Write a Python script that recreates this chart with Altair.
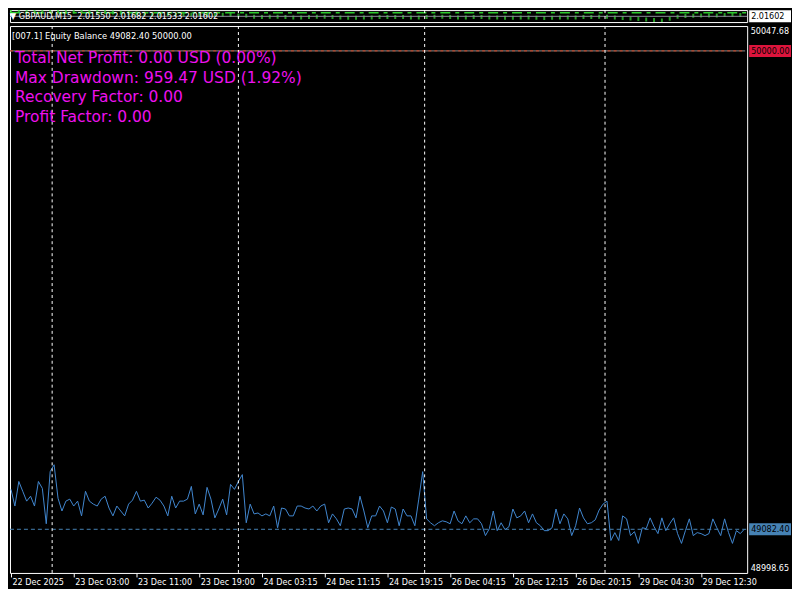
import json
import altair as alt
import pandas as pd

# ---------------- data ----------------
# equity (USD), one value every 2 M15 bars
equity = [
    49159.0, 49127.0, 49174.1, 49155.3, 49136.4, 49145.8, 49127.0, 49174.1, 49160.9, 49093.0,
    49193.0, 49206.2, 49142.0, 49117.5, 49136.4, 49140.2, 49127.0, 49136.4, 49108.1, 49155.3,
    49136.4, 49130.7, 49127.0, 49140.2, 49145.8, 49123.2, 49108.1, 49127.0, 49117.5, 49108.1,
    49130.7, 49138.3, 49155.3, 49136.4, 49138.3, 49123.2, 49132.6, 49143.9, 49138.3, 49127.0,
    49108.1, 49145.8, 49123.2, 49136.4, 49136.4, 49140.2, 49164.7, 49111.9, 49130.7, 49110.0,
    49162.8, 49140.2, 49104.3, 49121.3, 49140.2, 49110.0, 49168.5, 49159.0, 49174.1, 49187.3,
    49094.9, 49130.7, 49111.9, 49113.7, 49108.1, 49111.9, 49108.1, 49127.0, 49085.4, 49123.2,
    49121.3, 49108.1, 49108.1, 49127.0, 49127.0, 49123.2, 49121.3, 49127.0, 49117.5, 49127.0,
    49130.7, 49094.9, 49111.9, 49102.4, 49089.2, 49121.3, 49123.2, 49121.3, 49104.3, 49145.8,
    49117.5, 49085.4, 49108.1, 49108.1, 49127.0, 49117.5, 49094.9, 49125.1, 49121.3, 49089.2,
    49121.3, 49108.1, 49108.1, 49089.2, 49140.2, 49193.0, 49102.4, 49094.9, 49089.2, 49094.9,
    49098.6, 49096.8, 49093.0, 49117.5, 49098.6, 49093.0, 49108.1, 49094.9, 49102.4, 49102.4,
    49093.0, 49070.3, 49083.6, 49117.5, 49079.8, 49094.9, 49081.7, 49087.3, 49121.3, 49104.3,
    49108.1, 49117.5, 49094.9, 49111.9, 49094.9, 49089.2, 49079.8, 49079.8, 49085.4, 49121.3,
    49093.0, 49111.9, 49102.4, 49070.3, 49089.2, 49123.2, 49104.3, 49093.0, 49094.9, 49100.5,
    49119.4, 49130.7, 49136.4, 49060.9, 49076.0, 49060.9, 49108.1, 49102.4, 49070.3, 49077.9,
    49055.3, 49085.4, 49083.6, 49104.3, 49087.3, 49074.1, 49104.3, 49079.8, 49093.0, 49104.3,
    49074.1, 49055.3, 49079.8, 49102.4, 49070.3, 49076.0, 49074.1, 49070.3, 49074.1, 49102.4,
    49085.4, 49070.3, 49102.4, 49076.0, 49055.3, 49079.8, 49074.1, 49082.4,
]
equity_step = 2

# GBPAUD price (top panel), one value every 4 M15 bars
price = [
    2.0197, 2.01995, 2.0202, 2.0197, 2.0197, 2.01995, 2.01995, 2.0197, 2.0197, 2.01995,
    2.0197, 2.01945, 2.0192, 2.01895, 2.0187, 2.01845, 2.0182, 2.01795, 2.0177, 2.0177,
    2.0177, 2.01745, 2.0172, 2.01745, 2.0177, 2.01745, 2.0172, 2.0172, 2.0172, 2.0167,
    2.01645, 2.0157, 2.01545, 2.0157, 2.0157, 2.01545, 2.0152, 2.0152, 2.01545, 2.0157,
    2.0157, 2.01545, 2.0152, 2.01495, 2.01495, 2.0152, 2.0152, 2.01545, 2.01545, 2.01545,
    2.01545, 2.0152, 2.0152, 2.01545, 2.0157, 2.0157, 2.01545, 2.0152, 2.0152, 2.01545,
    2.01545, 2.0152, 2.0152, 2.01495, 2.01495, 2.0152, 2.0152, 2.01495, 2.0147, 2.01495,
    2.0152, 2.0152, 2.0152, 2.01545, 2.01545, 2.0157, 2.0157, 2.0152, 2.0147, 2.01445,
    2.01395, 2.0137, 2.0132, 2.01295, 2.0142, 2.0157, 2.0162, 2.01645, 2.0167, 2.0167,
    2.0167, 2.01695, 2.0172, 2.01695,
]
price_step = 4

separators = [21, 116, 211, 303]
tick_bars = [0, 32, 64, 96, 128, 160, 192, 224, 256, 288, 320, 352]
tick_labels = ["22 Dec 2025", "23 Dec 03:00", "23 Dec 11:00", "23 Dec 19:00",
               "24 Dec 03:15", "24 Dec 11:15", "24 Dec 19:15", "26 Dec 04:15",
               "26 Dec 12:15", "26 Dec 20:15", "29 Dec 04:30", "29 Dec 12:30"]

balance = 50000.00
equity_last = 49082.40
y_range = [48998.65, 50047.68]
bid = 2.01602
level_price = 2.0187
price_range = [2.0117, 2.0207]
bar_range = [-0.5, 375.5]

header = "\u25bc GBPAUD,M15\u00a0 2.01550 2.01682 2.01533 2.01602"
title_line = "[007.1] Equity Balance 49082.40 50000.00"
stats = ["Total Net Profit: 0.00 USD (0.00%)",
         "Max Drawdown: 959.47 USD (1.92%)",
         "Recovery Factor: 0.00",
         "Profit Factor: 0.00"]

# ---------------- styling ----------------
W = 740
H_TOP = 12
H_MAIN = 549
SMALL = "DejaVu Sans Condensed, DejaVu Sans"
BIG = "DejaVu Sans"
EQ_COLOR = "#4187CF"
MAGENTA = "#EE11EE"

eq_df = pd.DataFrame({"bar": [i * equity_step for i in range(len(equity))], "equity": equity})
pr_df = pd.DataFrame({"bar": [i * price_step for i in range(len(price))], "price": price})
sep_df = pd.DataFrame({"bar": separators})
one = pd.DataFrame({"k": [0]})

label_expr = json.dumps(tick_labels) + "[round(datum.value / 32)]"

x_main = alt.X("bar:Q", scale=alt.Scale(domain=bar_range, nice=False, zero=False),
               axis=alt.Axis(values=tick_bars, labelExpr=label_expr, labelAlign="left",
                             labelBaseline="top", labelFlush=False, labelOverlap=False,
                             labelPadding=1, labelOffset=1, tickColor="white", tickSize=4,
                             tickWidth=1, domain=False, grid=False, labelColor="white",
                             labelFont=SMALL, labelFontSize=9, title=None))
y_main = alt.Y("equity:Q", scale=alt.Scale(domain=y_range, nice=False, zero=False),
               axis=alt.Axis(orient="right", values=y_range, format=".2f", labelFlush=True,
                             ticks=False, domain=False, grid=False, labelColor="white",
                             labelFont=SMALL, labelFontSize=9, labelPadding=3, title=None))

# ---- main panel ----
bal_under = alt.Chart(one).mark_rule(color="#8A8A8A", strokeWidth=1).encode(
    y=alt.datum(balance), x=alt.value(0), x2=alt.value(W - 2))
bal_over = alt.Chart(one).mark_rule(color="#D8401E", strokeWidth=1, strokeDash=[3, 3]).encode(
    y=alt.datum(balance), x=alt.value(0), x2=alt.value(W - 2))
eq_rule = alt.Chart(one).mark_rule(color="#4682B4", strokeWidth=1, strokeDash=[4, 3]).encode(
    y=alt.datum(equity_last), x=alt.value(0), x2=alt.value(W))
seps = alt.Chart(sep_df).mark_rule(color="white", strokeWidth=1, strokeDash=[3, 3]).encode(
    x=alt.X("bar:Q"))
line = alt.Chart(eq_df).mark_line(color=EQ_COLOR, strokeWidth=1, clip=True).encode(
    x=x_main, y=y_main)

title_txt = alt.Chart(one).mark_text(align="left", baseline="alphabetic", color="white",
                                     font=SMALL, fontSize=9.3).encode(
    x=alt.value(2), y=alt.value(13), text=alt.value(title_line))
stat_layers = []
for i, s in enumerate(stats):
    stat_layers.append(
        alt.Chart(one).mark_text(align="left", baseline="alphabetic", color=MAGENTA,
                                 font=BIG, fontSize=15.5).encode(
            x=alt.value(5), y=alt.value(37 + 19.7 * i), text=alt.value(s)))

bal_box = alt.Chart(one).mark_rect(color="#DC143C", yOffset=-6, y2Offset=6).encode(
    y=alt.datum(balance), y2=alt.datum(balance), x=alt.value(W + 2), x2=alt.value(W + 44))
bal_lbl = alt.Chart(one).mark_text(align="left", baseline="middle", color="black",
                                   font=SMALL, fontSize=9).encode(
    y=alt.datum(balance), x=alt.value(W + 4), text=alt.value(f"{balance:.2f}"))
eq_box = alt.Chart(one).mark_rect(color="#4682B4", yOffset=-6, y2Offset=6).encode(
    y=alt.datum(equity_last), y2=alt.datum(equity_last), x=alt.value(W + 2), x2=alt.value(W + 44))
eq_lbl = alt.Chart(one).mark_text(align="left", baseline="middle", color="black",
                                  font=SMALL, fontSize=9).encode(
    y=alt.datum(equity_last), x=alt.value(W + 4), text=alt.value(f"{equity_last:.2f}"))

main = alt.layer(line, bal_under, bal_over, eq_rule, seps, title_txt, *stat_layers,
                 bal_box, bal_lbl, eq_box, eq_lbl).properties(width=W, height=H_MAIN)

# ---- top price panel ----
x_top = alt.X("bar:Q", scale=alt.Scale(domain=bar_range, nice=False, zero=False), axis=None)
y_top = alt.Y("price:Q", scale=alt.Scale(domain=price_range, nice=False, zero=False), axis=None)

bars = alt.Chart(pr_df).mark_tick(color="#33DD33", orient="vertical", size=4, thickness=2,
                                  clip=True).encode(x=x_top, y=y_top)
bid_rule = alt.Chart(one).mark_rule(color="#8C8C9A", strokeWidth=1).encode(
    y=alt.datum(bid), x=alt.value(0), x2=alt.value(W))
lvl_rule = alt.Chart(one).mark_rule(color="#2ECC2E", strokeWidth=1.5, strokeDash=[10, 5, 4, 5]).encode(
    y=alt.datum(level_price), x=alt.value(0), x2=alt.value(W))
seps_top = alt.Chart(sep_df).mark_rule(color="white", strokeWidth=1, strokeDash=[3, 3]).encode(
    x=alt.X("bar:Q"))
head_txt = alt.Chart(one).mark_text(align="left", baseline="middle", color="white",
                                    font=SMALL, fontSize=9).encode(
    x=alt.value(0), y=alt.value(H_TOP / 2), text=alt.value(header))
bid_box = alt.Chart(one).mark_rect(color="white", yOffset=-6, y2Offset=6).encode(
    y=alt.datum(bid), y2=alt.datum(bid), x=alt.value(W + 2), x2=alt.value(W + 44))
bid_lbl = alt.Chart(one).mark_text(align="left", baseline="middle", color="black",
                                   font=SMALL, fontSize=9).encode(
    y=alt.datum(bid), x=alt.value(W + 4), text=alt.value(f"{bid:.5f}"))

top = alt.layer(bars, bid_rule, lvl_rule, seps_top, head_txt, bid_box, bid_lbl).properties(
    width=W, height=H_TOP)

chart = alt.vconcat(top, main, spacing=2).resolve_scale(
    x="independent", y="independent"
).properties(
    padding=0, background="black"
).configure_view(
    stroke="white", strokeWidth=1, fill="black"
)

chart.save("out.html", embed_options={"renderer": "svg", "actions": False})
